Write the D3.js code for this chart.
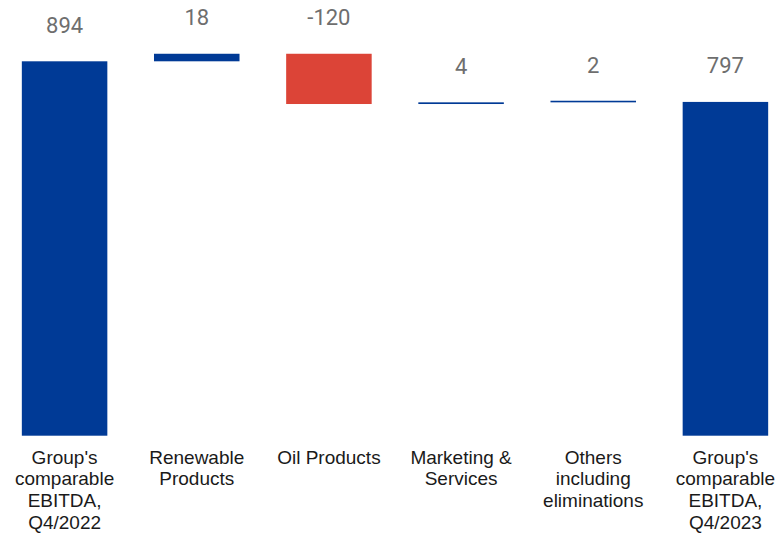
<!DOCTYPE html>
<html>
<head>
<meta charset="utf-8">
<script src="https://cdn.jsdelivr.net/npm/d3@7"></script>
<style>
  html, body { margin: 0; padding: 0; background: #fff; }
  svg { display: block; }
</style>
</head>
<body>
<svg id="chart" width="780" height="534"></svg>
<script>
// EBITDA bridge, EUR million
const categories = [
  ["Group's", "comparable", "EBITDA,", "Q4/2022"],
  ["Renewable", "Products"],
  ["Oil Products"],
  ["Marketing &", "Services"],
  ["Others", "including", "eliminations"],
  ["Group's", "comparable", "EBITDA,", "Q4/2023"]
];
const values = [894, 18, -120, 4, 2, 797];
const valueLabels = ["894", "18", "-120", "4", "2", "797"];
const kinds = ["total", "delta", "delta", "delta", "delta", "total"];

const colors = { total: "#003A96", up: "#003A96", down: "#DC4437" };

const svg = d3.select("#chart");

// running start/end of each step
let run = 0;
const bars = values.map((v, i) => {
  let y0, y1;
  if (kinds[i] === "total") { y0 = 0; y1 = v; run = v; }
  else { y0 = run; y1 = run + v; run = y1; }
  return { i, v, y0, y1, kind: kinds[i], label: valueLabels[i], cat: categories[i] };
});

const x = d3.scaleBand()
  .domain(d3.range(values.length))
  .range([-1.5, 791.5])
  .paddingInner(0.353)
  .paddingOuter(0.1765);

const y = d3.scaleLinear()
  .domain([0, 894])
  .range([435.7, 61.3]);

const minH = 1.6; // keep tiny steps visible

const g = svg.append("g");

g.selectAll("rect.bar")
  .data(bars)
  .join("rect")
  .attr("class", "bar")
  .attr("x", d => x(d.i))
  .attr("width", x.bandwidth())
  .attr("y", d => {
    const h = Math.abs(y(d.y0) - y(d.y1));
    return y(Math.max(d.y0, d.y1)) - Math.max(0, minH - h);
  })
  .attr("height", d => Math.max(minH, Math.abs(y(d.y0) - y(d.y1))))
  .attr("fill", d => d.kind === "total" ? colors.total : (d.v < 0 ? colors.down : colors.up));

g.selectAll("text.val")
  .data(bars)
  .join("text")
  .attr("class", "val")
  .attr("x", d => x(d.i) + x.bandwidth() / 2)
  .attr("y", d => y(Math.max(d.y0, d.y1)) - 28.5)
  .attr("text-anchor", "middle")
  .attr("font-family", "Roboto, sans-serif")
  .attr("font-size", 22)
  .attr("fill", "#6E6E6E")
  .text(d => d.label);

const cat = g.selectAll("text.cat")
  .data(bars)
  .join("text")
  .attr("class", "cat")
  .attr("text-anchor", "middle")
  .attr("font-family", "'Liberation Sans', Arial, sans-serif")
  .attr("font-size", 19)
  .attr("fill", "#1A1A1A");

cat.selectAll("tspan")
  .data(d => d.cat.map(t => ({ t, cx: x(d.i) + x.bandwidth() / 2 })))
  .join("tspan")
  .attr("x", d => d.cx)
  .attr("y", (d, k) => 463.5 + k * 21.8)
  .text(d => d.t);
</script>
</body>
</html>
